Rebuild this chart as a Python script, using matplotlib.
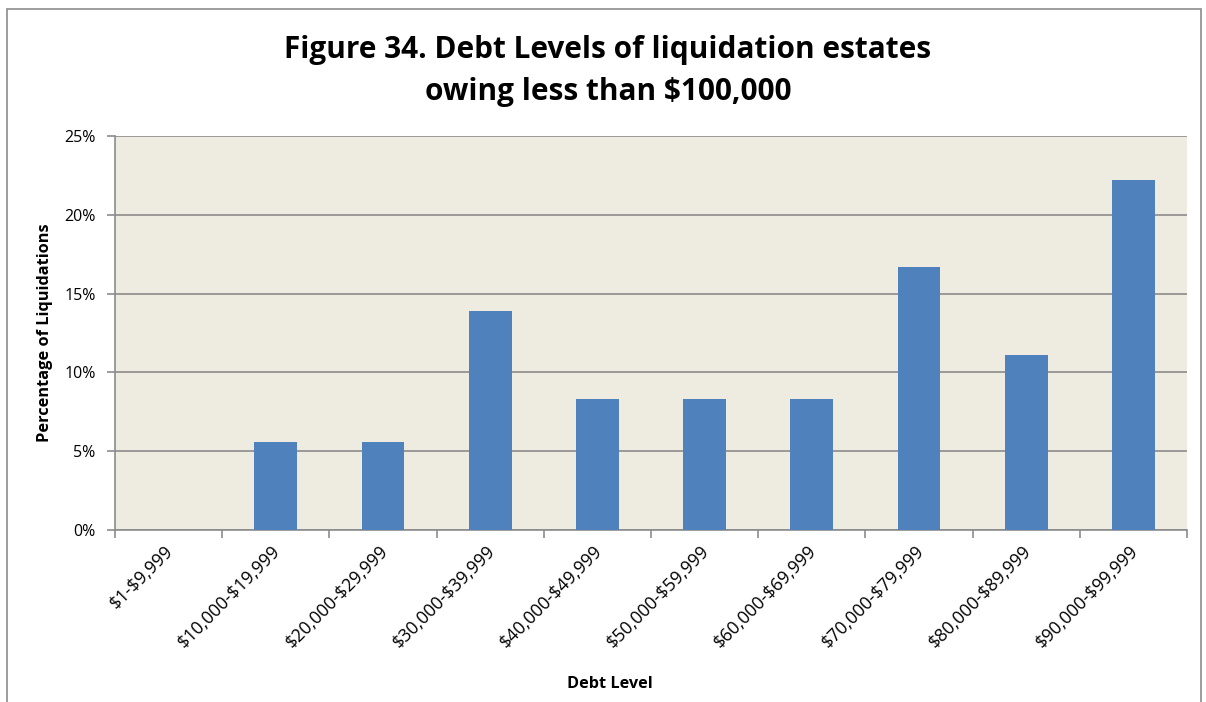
import matplotlib
matplotlib.use("Agg")
import matplotlib.pyplot as plt
from matplotlib.patches import Rectangle
from matplotlib.ticker import FuncFormatter, MultipleLocator

categories = ["$1-$9,999", "$10,000-$19,999", "$20,000-$29,999", "$30,000-$39,999",
              "$40,000-$49,999", "$50,000-$59,999", "$60,000-$69,999",
              "$70,000-$79,999", "$80,000-$89,999", "$90,000-$99,999"]
percentages = [0.0, 5.56, 5.56, 13.89, 8.33, 8.33, 8.33, 16.67, 11.11, 22.22]

title = "Figure 34. Debt Levels of liquidation estates\nowing less than $100,000"
xlabel = "Debt Level"
ylabel = "Percentage of Liquidations"

plt.rcParams["font.family"] = ["Open Sans", "DejaVu Sans"]
plt.rcParams["text.parse_math"] = False

W, H = 1206, 702
fig = plt.figure(figsize=(W / 100, H / 100), dpi=100)
fig.patch.set_facecolor("white")

# chart frame
fig.patches.append(Rectangle((7 / W, -0.05), (1201 - 7) / W, 1.05 - 9 / H,
                             transform=fig.transFigure, fill=False,
                             edgecolor="#8c8c8c", linewidth=1.2))

left, right, top, bottom = 115, 1187, 136, 530
ax = fig.add_axes([left / W, 1 - bottom / H, (right - left) / W, (bottom - top) / H])
ax.set_facecolor("#eeebe1")

x = range(len(categories))
ax.bar(x, percentages, width=0.4, color="#4f81bd", zorder=3)

ax.set_xlim(-0.5, len(categories) - 0.5)
ax.set_ylim(0, 25)
ax.yaxis.set_major_locator(MultipleLocator(5))
ax.yaxis.set_major_formatter(FuncFormatter(lambda v, p: f"{v:.0f}%"))
ax.grid(axis="y", color="#8c8c8c", linewidth=1.2, zorder=1)
ax.set_axisbelow(True)

for s in ["top", "right"]:
    ax.spines[s].set_visible(False)
for s in ["left", "bottom"]:
    ax.spines[s].set_color("#8c8c8c")
    ax.spines[s].set_linewidth(1.2)

ax.set_xticks([i - 0.5 for i in range(len(categories) + 1)])
ax.set_xticklabels([])
ax.tick_params(axis="x", length=6, color="#8c8c8c", width=1.2)
ax.tick_params(axis="y", length=6, color="#8c8c8c", width=1.2, labelsize=11.5, pad=8)

for i, lab in enumerate(categories):
    ax.text(i + 0.02, -1.15, lab, rotation=45, rotation_mode="anchor",
            ha="right", va="center", fontsize=12.8, color="black")

fig.text(608 / W, 1 - 71 / H, title, ha="center", va="center",
         fontsize=21.4, fontweight="bold", linespacing=1.55)
fig.text(610 / W, 1 - 684 / H, xlabel, ha="center", va="center",
         fontsize=11.7, fontweight="bold")
fig.text(45 / W, 1 - 333 / H, ylabel, ha="center", va="center", rotation=90,
         fontsize=11.8, fontweight="bold")

fig.savefig("out.png", dpi=100, facecolor="white")
